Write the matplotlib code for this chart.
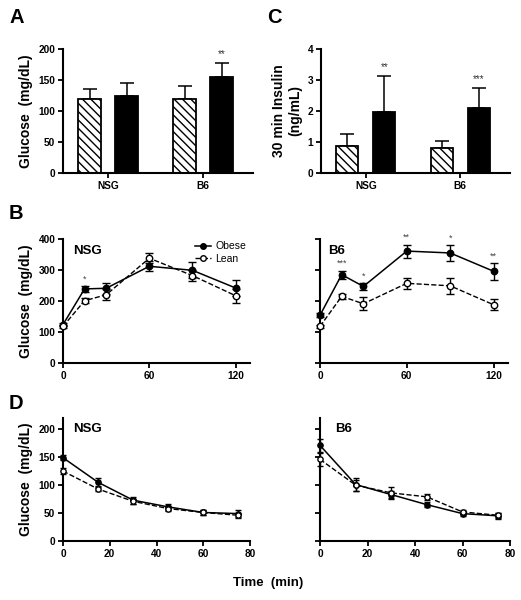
import numpy as np
import matplotlib

matplotlib.use("Agg")
import matplotlib.pyplot as plt
from matplotlib.lines import Line2D

plt.rcParams["font.family"] = ["Liberation Sans", "DejaVu Sans"]
plt.rcParams["hatch.linewidth"] = 1.0

# --- data ---
groups = ["NSG", "B6"]

# A: fasting glucose (mg/dL), mean and upper SD
glu_lean = [120, 119]
glu_lean_err = [16, 22]
glu_obese = [124, 155]
glu_obese_err = [21, 23]
glu_stars = ["", "**"]

# C: 30 min insulin (ng/mL)
ins_lean = [0.88, 0.81]
ins_lean_err = [0.38, 0.21]
ins_obese = [1.97, 2.09]
ins_obese_err = [1.17, 0.66]
ins_stars = ["**", "***"]

# B: glucose tolerance test
gtt_time = [0, 15, 30, 60, 90, 120]
gtt_nsg_obese = [124, 239, 241, 312, 299, 242]
gtt_nsg_obese_err = [6, 10, 17, 16, 26, 27]
gtt_nsg_lean = [118, 201, 220, 338, 282, 217]
gtt_nsg_lean_err = [6, 9, 18, 17, 19, 22]
gtt_nsg_stars = ["", "*", "", "", "", ""]
gtt_b6_obese = [154, 285, 247, 361, 355, 296]
gtt_b6_obese_err = [6, 13, 11, 21, 26, 27]
gtt_b6_lean = [118, 215, 191, 257, 249, 188]
gtt_b6_lean_err = [6, 7, 21, 17, 25, 18]
gtt_b6_stars = ["", "***", "*", "**", "*", "**"]

# D: insulin tolerance test
itt_time = [0, 15, 30, 45, 60, 75]
itt_nsg_obese = [149, 105, 73, 61, 51, 49]
itt_nsg_obese_err = [4, 7, 6, 6, 4, 6]
itt_nsg_lean = [125, 93, 71, 58, 51, 46]
itt_nsg_lean_err = [5, 4, 5, 4, 4, 4]
itt_b6_obese = [171, 101, 83, 65, 49, 45]
itt_b6_obese_err = [11, 12, 6, 5, 5, 5]
itt_b6_lean = [146, 100, 86, 79, 52, 46]
itt_b6_lean_err = [11, 10, 11, 5, 4, 4]

W, H = 521, 600
fig = plt.figure(figsize=(W / 100, H / 100), dpi=100, facecolor="white")


def axes_px(l, r, t, b):
    return fig.add_axes([l / W, 1 - b / H, (r - l) / W, (b - t) / H])


def style(ax):
    for s in ("top", "right"):
        ax.spines[s].set_visible(False)
    for s in ("left", "bottom"):
        ax.spines[s].set_linewidth(1.5)
    ax.tick_params(width=1.3, length=3.5, labelsize=7.3, pad=2)
    for lab in ax.get_xticklabels() + ax.get_yticklabels():
        lab.set_fontweight("bold")


def bar_panel(ax, lean, lean_err, obese, obese_err, stars, ylim, yticks, ylabel):
    x = np.arange(len(groups))
    off, w = 0.195, 0.235
    ax.bar(x - off, lean, w, color="white", edgecolor="black", hatch="\\\\\\\\", lw=1.3, zorder=2)
    ax.bar(x + off, obese, w, color="black", edgecolor="black", lw=1.3, zorder=2)
    ax.errorbar(x - off, lean, yerr=[np.zeros(len(x)), lean_err], fmt="none",
                ecolor="black", elinewidth=1.1, capsize=5, capthick=1.1, zorder=1)
    ax.errorbar(x + off, obese, yerr=[np.zeros(len(x)), obese_err], fmt="none",
                ecolor="black", elinewidth=1.1, capsize=5, capthick=1.1, zorder=1)
    for xi, v, e, s in zip(x + off, obese, obese_err, stars):
        if s:
            ax.text(xi, v + e + ylim[1] * 0.03, s, ha="center", va="bottom", fontsize=7, color="#333333")
    ax.set_xlim(-0.474, 1.526)
    ax.set_ylim(*ylim)
    ax.set_yticks(yticks)
    ax.set_xticks(x)
    ax.set_xticklabels(groups)
    ax.set_ylabel(ylabel, fontsize=10, fontweight="bold", labelpad=4)
    style(ax)


def line_panel(ax, t, obese, obese_err, lean, lean_err, stars, ms, cap):
    ax.errorbar(t, obese, yerr=obese_err, color="black", lw=1.1, marker="o", ms=ms,
                mfc="black", mec="black", capsize=cap, elinewidth=1.0, capthick=1.0, zorder=3)
    ax.errorbar(t, lean, yerr=lean_err, color="black", lw=1.0, ls="--", marker="o", ms=ms,
                mfc="white", mec="black", mew=1.0, capsize=cap, elinewidth=1.0, capthick=1.0, zorder=4)
    if stars:
        for ti, v, e, s in zip(t, obese, obese_err, stars):
            if s:
                ax.text(ti, v + e + 8, s, ha="center", va="bottom", fontsize=6.5, color="#444444")


# A
axA = axes_px(63, 253, 49, 173)
bar_panel(axA, glu_lean, glu_lean_err, glu_obese, glu_obese_err, glu_stars,
          (0, 200), [0, 50, 100, 150, 200], "Glucose  (mg/dL)")

# C
axC = axes_px(321, 510, 49, 173)
bar_panel(axC, ins_lean, ins_lean_err, ins_obese, ins_obese_err, ins_stars,
          (0, 4), [0, 1, 2, 3, 4], "30 min Insulin\n(ng/mL)")

# B
axB1 = axes_px(63, 250, 239, 363)
line_panel(axB1, gtt_time, gtt_nsg_obese, gtt_nsg_obese_err, gtt_nsg_lean, gtt_nsg_lean_err,
           gtt_nsg_stars, 4.6, 3)
axB2 = axes_px(320, 508, 239, 363)
line_panel(axB2, gtt_time, gtt_b6_obese, gtt_b6_obese_err, gtt_b6_lean, gtt_b6_lean_err,
           gtt_b6_stars, 4.6, 3)
for ax, name, tx in ((axB1, "NSG", 0.055), (axB2, "B6", 0.045)):
    ax.set_xlim(0, 130)
    ax.set_ylim(0, 400)
    ax.set_xticks([0, 60, 120])
    ax.set_yticks([0, 100, 200, 300, 400])
    ax.text(tx, 0.95, name, transform=ax.transAxes, fontsize=9.5, fontweight="bold", va="top")
axB2.set_yticklabels([])
axB1.set_ylabel("Glucose  (mg/dL)", fontsize=10, fontweight="bold", labelpad=4)
handles = [
    Line2D([], [], color="black", lw=1.1, marker="o", ms=4, mfc="black"),
    Line2D([], [], color="black", lw=1.0, ls="--", marker="o", ms=4, mfc="white"),
]
axB1.legend(handles, ["Obese", "Lean"], loc="upper right", bbox_to_anchor=(1.02, 1.04),
            frameon=False, fontsize=7.5, handlelength=1.6, handletextpad=0.4,
            labelspacing=0.25, borderpad=0.2)

# D
axD1 = axes_px(63, 250, 418, 541)
line_panel(axD1, itt_time, itt_nsg_obese, itt_nsg_obese_err, itt_nsg_lean, itt_nsg_lean_err,
           None, 3.8, 2.5)
axD2 = axes_px(320, 510, 418, 541)
line_panel(axD2, itt_time, itt_b6_obese, itt_b6_obese_err, itt_b6_lean, itt_b6_lean_err,
           None, 3.8, 2.5)
for ax, name, tx in ((axD1, "NSG", 0.055), (axD2, "B6", 0.08)):
    ax.set_xlim(0, 80)
    ax.set_ylim(0, 220)
    ax.set_xticks([0, 20, 40, 60, 80])
    ax.set_yticks([0, 50, 100, 150, 200])
    ax.text(tx, 0.96, name, transform=ax.transAxes, fontsize=9.5, fontweight="bold", va="top")
axD2.set_yticklabels([])
axD1.set_ylabel("Glucose  (mg/dL)", fontsize=10, fontweight="bold", labelpad=4)

for ax in (axB1, axB2, axD1, axD2):
    style(ax)
    for art in ax.get_children():
        try:
            art.set_clip_on(False)
        except Exception:
            pass

# panel letters and shared label
for letter, x, y in (("A", 9, 8), ("C", 267, 8), ("B", 9, 204), ("D", 9, 394)):
    fig.text(x / W, 1 - y / H, letter, fontsize=14.5, fontweight="bold", va="top", ha="left")
fig.text(0.515, 1 - 583 / H, "Time  (min)", fontsize=9.5, fontweight="bold", ha="center", va="center")

fig.savefig("out.png", dpi=100, facecolor="white")
